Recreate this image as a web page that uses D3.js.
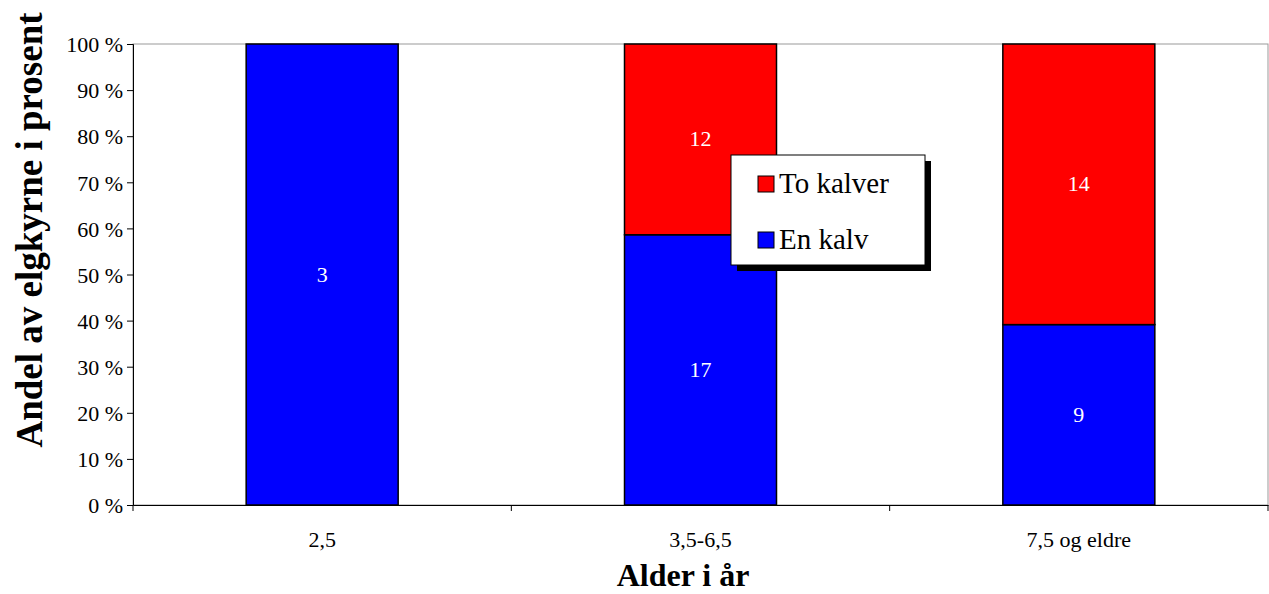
<!DOCTYPE html>
<html><head><meta charset="utf-8">
<script src="https://cdn.jsdelivr.net/npm/d3@7"></script>
<style>body{margin:0;background:#fff}svg text{font-family:"Liberation Serif","Times New Roman",serif}</style>
</head><body><svg id="c" width="1269" height="594"></svg>
<script>
const categories = ["2,5", "3,5-6,5", "7,5 og eldre"];
const enKalv = [3, 17, 9];
const toKalver = [0, 12, 14];
const yTicks = [0,10,20,30,40,50,60,70,80,90,100];
const seriesNames = ["To kalver", "En kalv"];
const colors = {one:"#0000ff", two:"#ff0000"};

const svg = d3.select("#c");
const L=133, R=1268, T=44, B=505;
const x = d3.scaleBand().domain(categories).range([L,R]);
const y = d3.scaleLinear().domain([0,100]).range([B,T]);
const bw = 152;

svg.append("rect").attr("x",L).attr("y",T).attr("width",R-L).attr("height",B-T).attr("fill","none").attr("stroke","#999");

const data = categories.map((c,i)=>{const tot=enKalv[i]+toKalver[i];return {c,one:enKalv[i],two:toKalver[i],p1:enKalv[i]/tot*100};});
data.forEach(d=>{
  const cx = x(d.c)+x.bandwidth()/2;
  svg.append("rect").attr("x",cx-bw/2).attr("y",y(d.p1)).attr("width",bw).attr("height",B-y(d.p1)).attr("fill",colors.one).attr("stroke","#000").attr("stroke-width",1.5);
  svg.append("text").attr("x",cx).attr("y",(y(d.p1)+B)/2+7).attr("text-anchor","middle").attr("fill","#fff").attr("font-size",22).text(d.one);
  if(d.two>0){
    svg.append("rect").attr("x",cx-bw/2).attr("y",T).attr("width",bw).attr("height",y(d.p1)-T).attr("fill",colors.two).attr("stroke","#000").attr("stroke-width",1.5);
    svg.append("text").attr("x",cx).attr("y",(y(d.p1)+T)/2+7).attr("text-anchor","middle").attr("fill","#fff").attr("font-size",22).text(d.two);
  }
});

const ya = svg.append("g").attr("transform",`translate(${L},0)`).call(d3.axisLeft(y).tickValues(yTicks).tickSize(6).tickFormat(d=>d+" %"));
ya.selectAll("text").attr("font-size",22).attr("fill","#000").attr("dx",-1).attr("dy","0.35em");
ya.select(".domain").attr("stroke","#000");
const xa = svg.append("g").attr("transform",`translate(0,${B})`).call(d3.axisBottom(x).tickSize(0).tickPadding(26));
xa.selectAll("text").attr("font-size",22).attr("fill","#000");
xa.select(".domain").attr("stroke","#000");
[L,...categories.map(c=>x(c)+x.bandwidth())].forEach(v=>svg.append("line").attr("x1",v).attr("x2",v).attr("y1",B).attr("y2",B+6).attr("stroke","#000"));

svg.append("text").attr("x",683).attr("y",586).attr("text-anchor","middle").attr("font-weight","bold").attr("font-size",32).text("Alder i år");
svg.append("text").attr("transform","translate(42,230) rotate(-90)").attr("text-anchor","middle").attr("font-weight","bold").attr("font-size",37).text("Andel av elgkyrne i prosent");

const lg = svg.append("g");
lg.append("rect").attr("x",737).attr("y",161).attr("width",194).attr("height",110).attr("fill","#000");
lg.append("rect").attr("x",731).attr("y",155).attr("width",194).attr("height",110).attr("fill","#fff").attr("stroke","#000");
[[seriesNames[0],colors.two,184],[seriesNames[1],colors.one,240]].forEach(([n,c,yy])=>{
  lg.append("rect").attr("x",758).attr("y",yy-8).attr("width",16).attr("height",16).attr("fill",c).attr("stroke","#000");
  lg.append("text").attr("x",779).attr("y",yy+9).attr("font-size",29).text(n);
});
</script></body></html>
